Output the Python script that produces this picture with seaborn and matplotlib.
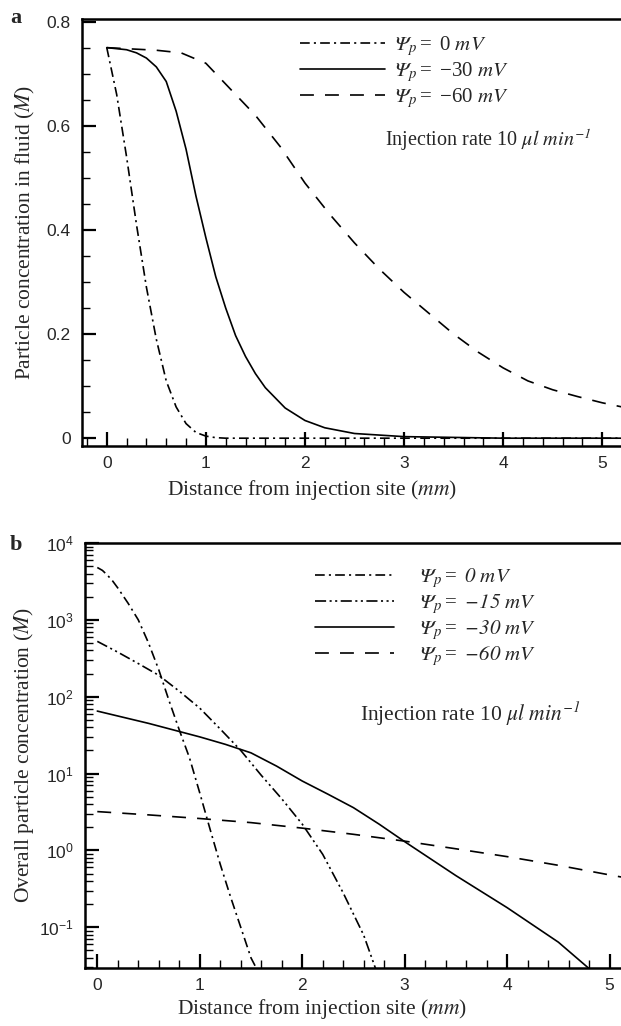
import numpy as np
import pandas as pd
import matplotlib
matplotlib.use("Agg")
import matplotlib.pyplot as plt
from matplotlib.ticker import MultipleLocator, FixedLocator, FuncFormatter, LogLocator, NullFormatter
import seaborn as sns

# ---------------- data ----------------
# panel a: particle concentration in fluid (M) vs distance (mm)
a_x_0 = [0, 0.1, 0.2, 0.3, 0.4, 0.5, 0.6, 0.7, 0.8, 0.9, 1.0, 1.1, 1.2, 1.5, 2.0, 3.0, 4.0, 5.25]
a_y_0 = [0.75, 0.66, 0.54, 0.41, 0.29, 0.19, 0.11, 0.06, 0.028, 0.011, 0.004, 0.001, 0, 0, 0, 0, 0, 0]
a_x_30 = [0, 0.2, 0.3, 0.4, 0.5, 0.6, 0.7, 0.8, 0.9, 1.0, 1.1, 1.2, 1.3, 1.4, 1.5, 1.6, 1.8, 2.0, 2.2,
          2.5, 3.0, 4.0, 5.25]
a_y_30 = [0.75, 0.746, 0.74, 0.73, 0.713, 0.685, 0.628, 0.555, 0.465, 0.385, 0.31, 0.25, 0.197, 0.157,
          0.124, 0.097, 0.058, 0.034, 0.02, 0.009, 0.003, 0.0, 0.0]
a_x_60 = [0, 0.5, 0.75, 1.0, 1.25, 1.5, 1.75, 2.0, 2.25, 2.5, 2.75, 3.0, 3.25, 3.5, 3.75, 4.0, 4.25, 4.5,
          4.75, 5.0, 5.25]
a_y_60 = [0.75, 0.745, 0.74, 0.72, 0.67, 0.62, 0.56, 0.49, 0.43, 0.375, 0.325, 0.28, 0.24, 0.20, 0.165,
          0.135, 0.11, 0.093, 0.08, 0.068, 0.058]

# panel b: overall particle concentration (M), log scale
b_x_0 = [0, 0.05, 0.1, 0.15, 0.2, 0.3, 0.4, 0.5, 0.6, 0.7, 0.8, 0.9, 1.0, 1.1, 1.2, 1.3, 1.4, 1.5, 1.56]
b_y_0 = [4800, 4400, 3800, 3200, 2600, 1650, 1000, 500, 224, 89, 37, 16, 5.6, 1.9, 0.66, 0.25, 0.1,
         0.04, 0.028]
b_x_15 = [0, 0.2, 0.4, 0.6, 0.8, 1.0, 1.2, 1.4, 1.6, 1.8, 2.0, 2.2, 2.4, 2.6, 2.72]
b_y_15 = [525, 380, 270, 190, 118, 71, 38, 20, 9.5, 4.7, 2.2, 0.89, 0.28, 0.079, 0.028]
b_x_30 = [0, 0.5, 1.0, 1.25, 1.5, 1.75, 2.0, 2.25, 2.5, 2.75, 3.0, 3.5, 4.0, 4.5, 4.8]
b_y_30 = [65, 45, 30, 24, 18.6, 12.5, 8.0, 5.4, 3.6, 2.2, 1.3, 0.47, 0.18, 0.064, 0.029]
b_x_60 = [0, 0.5, 1.0, 1.5, 2.0, 2.5, 3.0, 3.5, 4.0, 4.5, 5.0, 5.2]
b_y_60 = [3.2, 2.9, 2.6, 2.3, 1.95, 1.62, 1.32, 1.05, 0.83, 0.64, 0.48, 0.43]

a_labels = [r"$\Psi_{p}\mathregular{=\ 0}\ mV$", r"$\Psi_{p}\mathregular{=\ {-}30}\ mV$",
            r"$\Psi_{p}\mathregular{=\ {-}60}\ mV$"]
b_labels = [r"$\Psi_{p}\mathregular{=}\ 0\ mV$", r"$\Psi_{p}\mathregular{=}\ {-}15\ mV$",
            r"$\Psi_{p}\mathregular{=}\ {-}30\ mV$", r"$\Psi_{p}\mathregular{=}\ {-}60\ mV$"]
a_yticks = [0, 0.2, 0.4, 0.6, 0.8]
x_ticks = [0, 1, 2, 3, 4, 5]
b_yticks = [1e-1, 1e0, 1e1, 1e2, 1e3, 1e4]

# ---------------- style ----------------
sns.set_style("ticks")
plt.rcParams["font.family"] = ["Liberation Sans", "DejaVu Sans"]
plt.rcParams["mathtext.fontset"] = "custom"
plt.rcParams["mathtext.rm"] = "STIXGeneral:italic"
plt.rcParams["mathtext.it"] = "STIXGeneral:italic"
plt.rcParams["mathtext.bf"] = "STIXGeneral:bold"
plt.rcParams["mathtext.sf"] = "STIXGeneral"
plt.rcParams["lines.scale_dashes"] = False
SERIF = ["Liberation Serif", "DejaVu Serif"]

DASHDOT = (7, 3, 1.5, 3)
DASHDOTDOT = (8, 2.5, 1.5, 2.5, 1.5, 2.5)
DASHED = (10, 8)

fig = plt.figure(figsize=(6.21, 10.26), dpi=100)
axA = fig.add_axes([82 / 621, 1 - 446 / 1026, 545 / 621, 427 / 1026])
axB = fig.add_axes([85 / 621, 1 - 968 / 1026, 542 / 621, 425 / 1026])


def draw(ax, x, y, dashes, label):
    sns.lineplot(x=x, y=y, ax=ax, color="black", lw=1.2, label=label, sort=False, estimator=None)
    ln = ax.lines[-1]
    if dashes is not None:
        ln.set_dashes(dashes)
    return ln


def style_axes(ax):
    for side in ["left", "bottom", "top"]:
        ax.spines[side].set_linewidth(1.8)
        ax.spines[side].set_color("black")
    ax.spines["right"].set_visible(False)
    ax.tick_params(which="major", direction="in", length=10, width=1.6, labelsize=12.5, color="black")
    ax.tick_params(which="minor", direction="in", length=5.5, width=1.0, color="black")
    ax.tick_params(axis="x", pad=7)
    ax.tick_params(axis="y", pad=8)
    ax.set_facecolor("white")


legend_font = {"family": SERIF, "size": 15}

# ---------------- panel a ----------------
hA = [draw(axA, a_x_0, a_y_0, DASHDOT, a_labels[0]),
      draw(axA, a_x_30, a_y_30, None, a_labels[1]),
      draw(axA, a_x_60, a_y_60, DASHED, a_labels[2])]
axA.set_xlim(-0.25, 5.25)
axA.set_ylim(-0.015, 0.805)
axA.xaxis.set_major_locator(FixedLocator(x_ticks))
axA.xaxis.set_minor_locator(MultipleLocator(0.2))
axA.yaxis.set_major_locator(FixedLocator(a_yticks))
axA.yaxis.set_minor_locator(MultipleLocator(0.05))
axA.yaxis.set_major_formatter(FuncFormatter(lambda v, p: f"{v:g}"))
style_axes(axA)
axA.set_xlabel(r"Distance from injection site ($mm$)", family=SERIF, fontsize=15.5)
axA.set_ylabel(r"Particle concentration in fluid ($M$)", family=SERIF, fontsize=15.5)
axA.xaxis.set_label_coords(0.422, -0.075)
axA.yaxis.set_label_coords(-0.083, 0.5)
axA.legend(handles=hA, labels=a_labels, loc="upper left", bbox_to_anchor=(0.40, 0.965), frameon=False,
           prop=legend_font, handlelength=4.1, handletextpad=0.4, labelspacing=0.1, borderpad=0,
           borderaxespad=0)
axA.text(0.556, 0.717, r"Injection rate 10 $\mu l\ min^{-1}$", transform=axA.transAxes,
         family=SERIF, fontsize=14.5, ha="left", va="center")

# ---------------- panel b ----------------
hB = [draw(axB, b_x_0, b_y_0, DASHDOT, b_labels[0]),
      draw(axB, b_x_15, b_y_15, DASHDOTDOT, b_labels[1]),
      draw(axB, b_x_30, b_y_30, None, b_labels[2]),
      draw(axB, b_x_60, b_y_60, DASHED, b_labels[3])]
axB.set_yscale("log")
axB.set_xlim(-0.12, 5.17)
axB.set_ylim(10 ** -1.53, 1e4)
axB.xaxis.set_major_locator(FixedLocator(x_ticks))
axB.xaxis.set_minor_locator(MultipleLocator(0.2))
axB.yaxis.set_major_locator(FixedLocator(b_yticks))
axB.yaxis.set_minor_locator(LogLocator(base=10, subs=np.arange(2, 10)))
axB.yaxis.set_minor_formatter(NullFormatter())
axB.yaxis.set_major_formatter(FuncFormatter(lambda v, p: r"$\mathregular{10^{%d}}$" % round(np.log10(v))))
style_axes(axB)
axB.set_xlabel(r"Distance from injection site ($mm$)", family=SERIF, fontsize=15.5)
axB.set_ylabel(r"Overall particle concentration ($M$)", family=SERIF, fontsize=15.5)
axB.xaxis.set_label_coords(0.437, -0.068)
axB.yaxis.set_label_coords(-0.09, 0.5)
axB.legend(handles=hB, labels=b_labels, loc="upper left", bbox_to_anchor=(0.424, 0.945), frameon=False,
           prop=legend_font, handlelength=3.8, handletextpad=1.2, labelspacing=0.1, borderpad=0,
           borderaxespad=0)
axB.text(0.507, 0.598, r"Injection rate 10 $\mu l\ min^{-1}$", transform=axB.transAxes,
         family=SERIF, fontsize=15.5, ha="left", va="center")

# panel letters
fig.text(10 / 621, 1 - 18 / 1026, "a", family=SERIF, fontsize=16, fontweight="bold", va="center")
fig.text(10 / 621, 1 - 545 / 1026, "b", family=SERIF, fontsize=16, fontweight="bold", va="center")

fig.savefig("out.png", dpi=100, facecolor="white")
